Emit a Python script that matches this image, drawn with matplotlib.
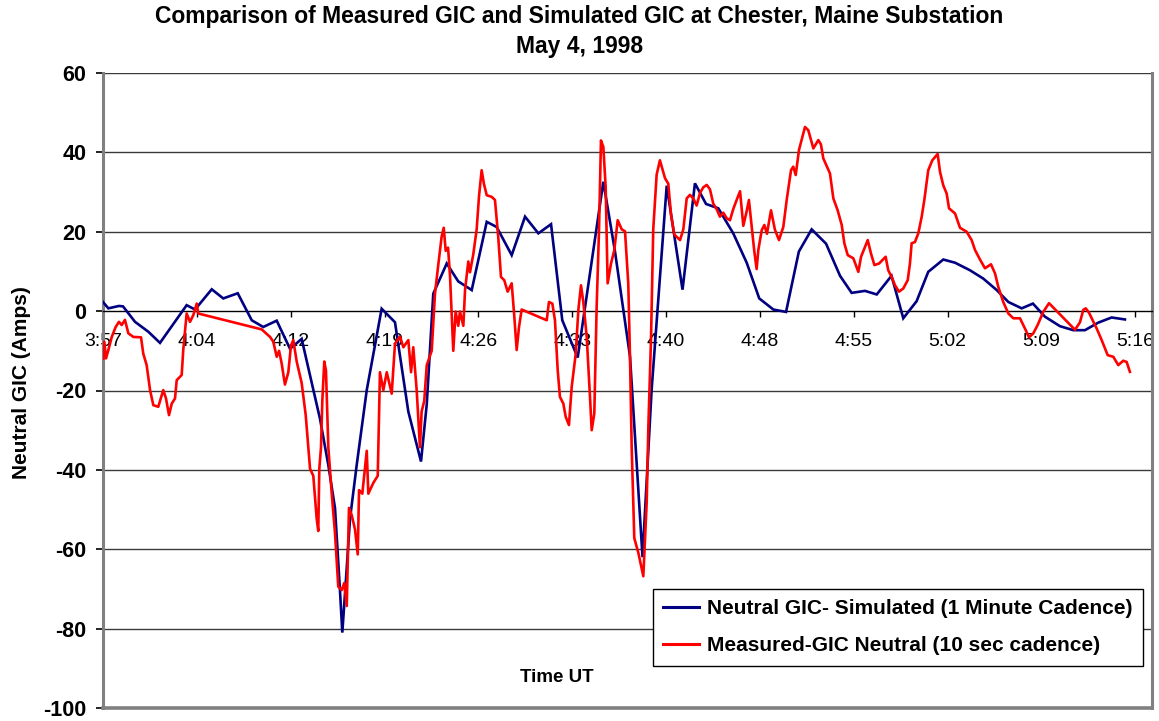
import matplotlib
matplotlib.use("Agg")
import matplotlib.pyplot as plt
from matplotlib.lines import Line2D

plt.rcParams['font.family'] = ['Liberation Sans', 'DejaVu Sans']
plt.rcParams['axes.unicode_minus'] = False

# ---- data (minutes after 3:57 UT, Amps) ----
blue_t = [0, 0.41, 1.22, 1.53, 2.45, 3.47, 4.36, 6.40, 7.04, 8.32, 9.20, 10.31, 11.38, 12.26,
          13.29, 14.31, 15.20, 16.60, 17.24, 17.75, 18.13, 18.31, 18.57, 18.90, 19.41, 20.18,
          21.32, 22.34, 23.36, 24.33, 24.77, 25.27, 26.30, 27.18, 28.21, 29.36, 30.12, 31.27,
          32.29, 33.31, 34.28, 35.14, 36.32, 38.28, 39.17, 40.32, 41.28, 41.98, 43.13, 44.34,
          45.29, 46.14, 47.08, 48.22, 49.25, 50.21, 51.29, 52.26, 53.24, 54.22, 55.32, 56.39,
          57.28, 58.30, 59.20, 60.33, 61.23, 62.25, 63.14, 64.29, 65.19, 66.33, 67.35, 68.38,
          69.27, 70.29, 71.15, 72.07, 73.22, 74.24, 75.13, 76.15, 77.17, 78.19]
blue_v = [2.3, 0.7, 1.3, 1.2, -2.7, -5.2, -8.0, 1.5, 0.4, 5.5, 3.2, 4.5, -2.3, -4.0,
          -2.4, -9.5, -7.0, -27.1, -38.8, -49.6, -70.3, -81.0, -68.5, -52.3, -38.8, -19.9,
          0.6, -2.8, -25.3, -37.9, -23.5, 4.4, 12.0, 7.5, 5.3, 22.5, 21.2, 14.1,
          23.8, 19.6, 21.9, -2.3, -11.7, 32.6, 15.1, -11.4, -62.0, -19.6, 31.6, 5.4,
          32.2, 27.0, 25.9, 19.6, 12.2, 3.2, 0.4, -0.2, 15.0, 20.6, 17.0, 8.9,
          4.6, 5.1, 4.2, 8.9, -1.8, 2.5, 9.9, 13.0, 12.2, 10.3, 8.2, 5.3,
          2.3, 0.7, 1.9, -1.4, -3.8, -4.8, -4.8, -2.9, -1.6, -2.1]

red_t = [0.02, 0.10, 0.23, 0.41, 0.67, 0.97, 1.22, 1.43, 1.68, 1.94, 2.32, 2.91, 3.08, 3.34,
         3.60, 3.85, 4.23, 4.61, 4.82, 5.05, 5.26, 5.51, 5.64, 6.02, 6.14, 6.40, 6.66, 6.91,
         7.17, 7.29, 12.14, 12.78, 13.03, 13.29, 13.47, 13.67, 13.92, 14.18, 14.38, 14.56,
         14.82, 15.20, 15.51, 15.84, 16.09, 16.35, 16.47, 16.55, 16.68, 16.78, 16.93, 17.06,
         17.24, 17.50, 17.75, 18.00, 18.26, 18.46, 18.65, 18.82, 19.03, 19.28, 19.49, 19.59,
         19.84, 20.18, 20.30, 20.68, 21.02, 21.19, 21.45, 21.71, 22.09, 22.34, 22.72, 22.98,
         23.36, 23.57, 23.74, 24.00, 24.25, 24.38, 24.58, 24.77, 25.15, 25.40, 25.65, 25.91,
         26.07, 26.22, 26.40, 26.55, 26.80, 26.98, 27.18, 27.31, 27.57, 27.70, 27.95, 28.08,
         28.33, 28.59, 28.77, 28.97, 29.15, 29.36, 29.74, 29.99, 30.24, 30.45, 30.70, 30.96,
         31.27, 31.47, 31.65, 31.83, 32.03, 33.95, 34.12, 34.38, 34.58, 34.79, 34.96, 35.22,
         35.40, 35.65, 35.86, 36.17, 36.37, 36.57, 36.75, 37.01, 37.26, 37.39, 37.59, 37.77,
         37.95, 38.10, 38.28, 38.46, 38.61, 38.87, 39.12, 39.38, 39.69, 39.94, 40.19, 40.32,
         40.45, 40.65, 40.96, 41.34, 41.60, 41.72, 41.93, 42.10, 42.36, 42.61, 43.00, 43.25,
         43.46, 43.71, 44.15, 44.40, 44.66, 44.91, 45.16, 45.42, 45.68, 45.93, 46.19, 46.44,
         46.69, 46.95, 47.20, 47.46, 47.72, 47.97, 48.22, 48.48, 48.74, 48.99, 49.25, 49.42,
         49.63, 49.83, 50.01, 50.14, 50.40, 50.60, 50.80, 51.11, 51.41, 51.72, 52.05, 52.31,
         52.64, 52.81, 53.00, 53.25, 53.71, 53.96, 54.35, 54.73, 54.93, 55.11, 55.62, 55.88,
         56.21, 56.52, 56.72, 56.98, 57.41, 57.79, 58.00, 58.30, 58.51, 58.76, 59.02, 59.38,
         59.62, 59.88, 60.08, 60.34, 60.60, 60.90, 61.23, 61.57, 61.74, 61.87, 62.12, 62.38,
         62.64, 62.84, 63.14, 63.45, 63.86, 64.04, 64.29, 64.55, 64.73, 65.19, 65.57, 66.08,
         66.46, 66.72, 67.10, 67.48, 67.94, 68.25, 68.50, 68.88, 69.27, 69.65, 70.16, 70.60,
         70.85, 71.18, 71.51, 71.94, 72.38, 74.37, 74.75, 75.00, 75.19, 75.44, 76.03, 76.41,
         76.87, 77.30, 77.68, 78.06, 78.32, 78.57]
red_v = [-12.0, -7.7, -11.9, -9.8, -6.5, -4.0, -2.7, -3.5, -2.2, -5.6, -6.5, -6.6, -10.7, -13.6,
         -19.9, -23.7, -24.1, -19.9, -22.0, -26.2, -23.3, -22.0, -17.4, -16.1, -9.8, -0.6, -2.7, -1.0,
         1.9, -0.6, -4.6, -6.5, -7.7, -11.5, -10.0, -13.2, -18.5, -15.4, -8.7, -7.3,
         -12.7, -18.1, -26.2, -39.7, -41.5, -52.3, -55.4, -39.7, -34.3, -22.6, -12.7, -15.0,
         -34.3, -46.0, -55.9, -69.4, -70.3, -68.5, -74.3, -49.6, -51.4, -55.0, -61.3, -45.1,
         -46.0, -35.2, -46.0, -43.3, -41.5, -15.4, -19.9, -15.4, -20.8, -8.2, -6.4, -9.1,
         -7.3, -15.4, -9.1, -19.9, -34.3, -25.3, -22.6, -13.6, -10.0, 4.4, 11.6, 18.8,
         21.0, 15.2, 16.0, 8.9, -10.0, -0.1, -3.7, -0.1, -3.7, 5.3, 12.5, 9.8,
         14.3, 20.6, 29.0, 35.5, 32.0, 29.2, 28.8, 28.0, 18.7, 8.6, 7.8, 4.9,
         7.0, -1.4, -9.8, -4.0, 0.4, -2.3, 2.3, 1.9, -2.3, -14.9, -21.6, -23.3,
         -26.6, -28.7, -19.1, -10.7, 0.3, 6.5, 2.3, -6.5, -21.6, -30.0, -25.8, 1.1,
         20.4, 43.0, 41.4, 31.3, 7.0, 12.0, 15.4, 22.9, 20.6, 20.1, 6.9, -11.4,
         -34.3, -57.2, -60.9, -66.8, -48.1, -29.7, -6.9, 20.6, 34.4, 38.0, 33.5, 32.1,
         24.3, 19.3, 17.9, 20.6, 28.4, 29.3, 28.4, 26.6, 29.8, 31.2, 31.8, 30.7,
         27.1, 25.7, 23.8, 24.8, 23.4, 22.9, 25.7, 28.0, 30.2, 21.5, 25.2, 28.0,
         21.5, 15.1, 10.6, 15.4, 20.4, 21.7, 19.5, 25.4, 20.5, 17.9, 21.2, 28.0,
         35.5, 36.4, 34.3, 40.6, 46.4, 45.6, 41.0, 43.1, 42.0, 38.5, 34.7, 28.4,
         25.4, 21.7, 17.1, 14.1, 13.3, 9.9, 13.7, 16.2, 17.9, 14.5, 11.6, 12.0,
         12.8, 13.7, 10.3, 8.6, 6.5, 4.9, 5.7, 7.8, 12.0, 17.1, 17.4, 19.6,
         23.8, 28.0, 35.5, 38.0, 39.6, 35.1, 31.7, 29.6, 25.9, 24.6, 21.0, 20.0,
         17.9, 15.4, 13.0, 10.8, 11.8, 9.5, 6.1, 2.3, -0.6, -1.8, -1.8, -4.8,
         -6.6, -5.6, -3.5, -0.2, 2.0, -4.7, -2.8, 0.3, 0.7, -0.4, -4.4, -7.3,
         -11.1, -11.5, -13.6, -12.5, -12.8, -15.3]

tick_labels = ["3:57", "4:04", "4:12", "4:19", "4:26", "4:33", "4:40", "4:48",
               "4:55", "5:02", "5:09", "5:16"]
tick_step = 7.18
y_ticks = [60, 40, 20, 0, -20, -40, -60, -80, -100]

blue_label = "Neutral GIC- Simulated (1 Minute Cadence)"
red_label = "Measured-GIC Neutral (10 sec cadence)"

# ---- figure ----
W, H = 1159, 721
fig = plt.figure(figsize=(W / 100, H / 100), dpi=100)
ax = fig.add_axes([103 / W, 1 - 708 / H, (1152 - 103) / W, (708 - 73) / H])

ax.spines['bottom'].set_position(('data', 0))
ax.spines['bottom'].set_color('black')
ax.spines['bottom'].set_linewidth(1.0)
ax.spines['top'].set_visible(False)
for s in ('left', 'right'):
    ax.spines[s].set_color('#808080')
    ax.spines[s].set_linewidth(2.2)

ax.set_xlim(0, 80.26)
ax.set_ylim(-100, 60)

ax.set_yticks(y_ticks)
ax.set_yticklabels([str(v) for v in y_ticks])
for y in y_ticks:
    if y not in (0, -100):
        ax.axhline(y, color='#3a3a3a', lw=1.0, zorder=1)

ax.set_xticks([i * tick_step for i in range(len(tick_labels))])
ax.set_xticklabels(tick_labels)

ax.tick_params(axis='x', direction='out', length=4, width=1, pad=12, colors='black',
               labelsize=14)
ax.tick_params(axis='y', direction='out', length=5, width=1.2, pad=7, colors='black',
               labelsize=15.5)
for lab in ax.get_yticklabels():
    lab.set_fontweight('bold')

ax.axhline(-100, color='#808080', lw=2.6, clip_on=False, zorder=3)

ax.plot(blue_t, blue_v, color='#000080', lw=1.9, zorder=4, solid_joinstyle='miter')
ax.plot(red_t, red_v, color='#ff0000', lw=1.9, zorder=5, solid_joinstyle='round')

handles = [Line2D([], [], color='#000080', lw=2.2), Line2D([], [], color='#ff0000', lw=2.2)]
leg = ax.legend(handles, [blue_label, red_label], loc='upper left',
                bbox_to_anchor=((653 - 103) / (1152 - 103), (708 - 589) / (708 - 73)),
                prop={'weight': 'bold', 'size': 15}, frameon=True, fancybox=False,
                edgecolor='black', framealpha=1, handlelength=1.7, handletextpad=0.4,
                borderpad=0.5, labelspacing=0.85, borderaxespad=0)
leg.get_frame().set_linewidth(1.0)
leg.set_zorder(10)

fig.text(0.5, 1 - 17 / H, "Comparison of Measured GIC and Simulated GIC at Chester, Maine Substation",
         ha='center', va='center', fontsize=16.5, fontweight='bold')
fig.text(0.5, 1 - 46 / H, "May 4, 1998", ha='center', va='center', fontsize=16.5, fontweight='bold')
fig.text(22 / W, 1 - 383 / H, "Neutral GIC (Amps)", rotation=90, ha='center', va='center',
         fontsize=15, fontweight='bold')
fig.text(557 / W, 1 - 678 / H, "Time UT", ha='center', va='center', fontsize=13.5, fontweight='bold')

fig.savefig("out.png", dpi=100)
